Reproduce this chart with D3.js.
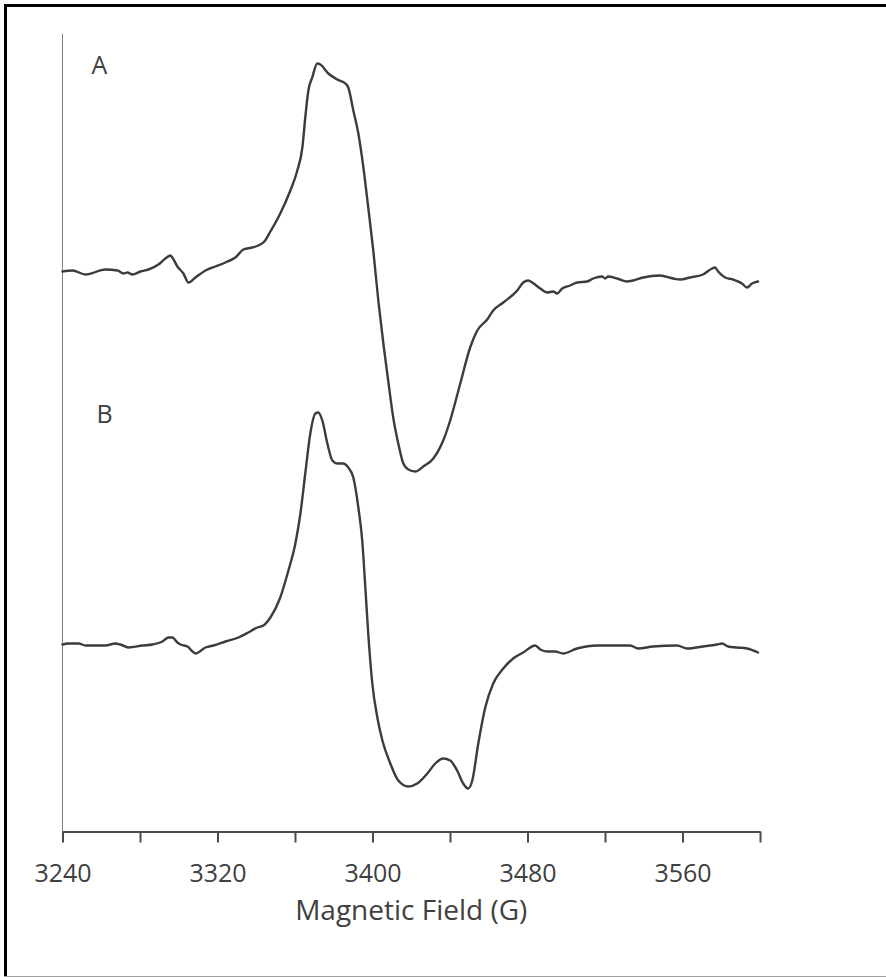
<!DOCTYPE html>
<html>
<head>
<meta charset="utf-8">
<script src="https://cdn.jsdelivr.net/npm/d3@7"></script>
<style>
  html, body { margin: 0; padding: 0; background: #fff; }
  svg { display: block; }
  text { font-family: "Open Sans", "Noto Sans", sans-serif; fill: #404040; }
</style>
</head>
<body>
<svg id="chart" width="886" height="977"></svg>
<script>
// Magnetic field (G) and first-derivative EPR signal (a.u., relative to each trace's baseline)
const fieldA = [3240.0, 3245.2, 3251.9, 3262.2, 3268.4, 3271.5, 3273.5, 3276.1, 3280.2, 3284.4,
  3289.5, 3293.1, 3295.7, 3296.7, 3299.3, 3302.4, 3305.0, 3308.6, 3313.8, 3318.9,
  3324.1, 3329.2, 3333.4, 3338.0, 3341.1, 3344.2, 3347.3, 3352.4, 3357.6, 3361.2,
  3363.8, 3365.3, 3366.9, 3368.9, 3371.5, 3373.1, 3377.2, 3381.8, 3386.0, 3387.5,
  3390.1, 3392.7, 3395.3, 3397.8, 3400.4, 3403.0, 3405.6, 3408.1, 3410.7, 3413.3,
  3415.9, 3418.5, 3422.1, 3426.2, 3431.4, 3436.5, 3440.1, 3445.3, 3450.4, 3454.1,
  3459.2, 3462.3, 3467.5, 3474.7, 3477.8, 3480.4, 3482.4, 3486.6, 3490.2, 3493.3,
  3495.3, 3497.9, 3502.0, 3505.6, 3510.8, 3513.9, 3518.5, 3520.1, 3521.6, 3526.3,
  3531.4, 3534.5, 3539.7, 3548.4, 3555.2, 3558.8, 3563.9, 3570.6, 3575.3, 3576.8,
  3578.4, 3582.0, 3586.1, 3590.7, 3593.3, 3595.9, 3599.0];
const signalA = [-1, 0, -4, 1, 0, -3, -2, -4, -1, 1,
  6, 12, 15, 13, 4, -3, -12, -7, 0, 4,
  8, 13, 21, 23, 25, 29, 39, 57, 80, 100,
  123, 153, 180, 193, 207, 206, 197, 191, 187, 183,
  160, 137, 103, 63, 20, -30, -73, -110, -147, -173,
  -193, -199, -201, -196, -188, -170, -150, -113, -77, -60,
  -49, -40, -32, -20, -12, -10, -12, -18, -22, -21,
  -23, -18, -15, -12, -11, -8, -6, -8, -6, -8,
  -11, -10, -7, -5, -8, -9, -7, -4, 2, 3,
  -1, -7, -9, -13, -17, -13, -11];

const fieldB = [3240.0, 3243.1, 3248.3, 3251.9, 3262.2, 3267.3, 3269.9, 3274.0, 3281.3, 3286.4,
  3291.6, 3294.7, 3296.7, 3299.3, 3300.9, 3304.5, 3307.1, 3308.6, 3313.8, 3317.9,
  3324.1, 3330.8, 3335.9, 3340.6, 3343.7, 3347.3, 3352.4, 3356.6, 3360.2, 3362.8,
  3365.3, 3367.9, 3370.5, 3372.0, 3374.1, 3376.7, 3379.3, 3381.8, 3384.9, 3387.5,
  3390.1, 3392.7, 3394.7, 3396.3, 3397.8, 3399.9, 3402.5, 3405.1, 3409.2, 3413.3,
  3418.5, 3423.1, 3428.3, 3432.4, 3436.5, 3440.1, 3443.7, 3446.8, 3449.4, 3451.5,
  3454.6, 3458.2, 3462.3, 3467.5, 3472.6, 3477.8, 3484.0, 3486.6, 3490.2, 3494.3,
  3498.4, 3505.6, 3516.0, 3533.0, 3537.1, 3544.8, 3557.2, 3562.4, 3570.6, 3577.8,
  3580.4, 3583.5, 3588.2, 3593.3, 3599.0];
const signalB = [1, 2, 2, 0, 0, 2, 1, -2, 0, 1,
  4, 8, 8, 3, 1, -1, -6, -8, -2, 0,
  4, 8, 13, 18, 20, 28, 48, 75, 102, 132,
  172, 212, 232, 233, 225, 202, 185, 182, 182, 178,
  168, 138, 105, 58, 12, -38, -72, -95, -118, -135,
  -141, -138, -128, -118, -113, -115, -125, -138, -143, -135,
  -98, -62, -38, -23, -13, -7, 0, -4, -6, -6,
  -8, -3, 0, 0, -3, -1, 0, -3, -1, 1,
  2, -1, -2, -3, -7];

// Vertical stacking offsets of the two spectra (same units as the signal)
const traceNames = ["A", "B"];
const traceOffsets = [561, 186];

const fieldTicks = [3240, 3280, 3320, 3360, 3400, 3440, 3480, 3520, 3560, 3600];
const fieldTickLabels = ["3240", "", "3320", "", "3400", "", "3480", "", "3560", ""];
const xTitle = "Magnetic Field (G)";

const svg = d3.select("#chart");
const W = 886, H = 977;
const plot = { left: 62.5, right: 760, top: 34, bottom: 831.5 };

// Frame around the figure
svg.append("line").attr("x1", 4).attr("x2", W).attr("y1", 5.5).attr("y2", 5.5)
  .attr("stroke", "#000").attr("stroke-width", 3);
svg.append("line").attr("x1", 5.5).attr("x2", 5.5).attr("y1", 4).attr("y2", H)
  .attr("stroke", "#000").attr("stroke-width", 3);
svg.append("line").attr("x1", 4).attr("x2", W).attr("y1", 976.5).attr("y2", 976.5)
  .attr("stroke", "#a0a0a0").attr("stroke-width", 1);

const x = d3.scaleLinear().domain([3240, 3600]).range([plot.left, plot.right]);
const y = d3.scaleLinear().domain([0, 797.5]).range([plot.bottom, plot.top]);

// Y axis: plain line only
svg.append("line")
  .attr("x1", plot.left).attr("x2", plot.left)
  .attr("y1", plot.top).attr("y2", plot.bottom)
  .attr("stroke", "#7f7f7f").attr("stroke-width", 1);

// X axis
const xAxis = d3.axisBottom(x)
  .tickValues(fieldTicks)
  .tickSize(11)
  .tickSizeOuter(0)
  .tickFormat((d, i) => fieldTickLabels[i]);

const gx = svg.append("g")
  .attr("transform", `translate(0,${plot.bottom})`)
  .call(xAxis);
gx.select(".domain").attr("stroke", "#4a4a4a").attr("stroke-width", 2);
gx.selectAll(".tick line").attr("stroke", "#4a4a4a").attr("stroke-width", 2);
gx.selectAll(".tick text")
  .attr("dy", null).attr("y", 50.5)
  .attr("font-size", 25)
  .attr("font-family", "'Open Sans', sans-serif")
  .attr("fill", "#404040");

svg.append("text")
  .attr("x", (plot.left + plot.right) / 2)
  .attr("y", 920)
  .attr("text-anchor", "middle")
  .attr("font-size", 28)
  .text(xTitle);

// Spectra
const traces = [
  { name: traceNames[0], field: fieldA, signal: signalA, offset: traceOffsets[0] },
  { name: traceNames[1], field: fieldB, signal: signalB, offset: traceOffsets[1] }
];

const line = d3.line()
  .x(d => x(d[0]))
  .y(d => y(d[1]))
  .curve(d3.curveMonotoneX);

traces.forEach(t => {
  const pts = t.field.map((f, i) => [f, t.signal[i] + t.offset]);
  svg.append("path")
    .datum(pts)
    .attr("d", line)
    .attr("fill", "none")
    .attr("stroke", "#3c3c3c")
    .attr("stroke-width", 2.4)
    .attr("stroke-linejoin", "round")
    .attr("stroke-linecap", "round");
});

// Trace labels
const labelPos = [{ f: 3255, v: 758 }, { f: 3257.5, v: 409 }];
traces.forEach((t, i) => {
  svg.append("text")
    .attr("x", x(labelPos[i].f))
    .attr("y", y(labelPos[i].v))
    .attr("font-size", 25)
    .text(t.name);
});
</script>
</body>
</html>
